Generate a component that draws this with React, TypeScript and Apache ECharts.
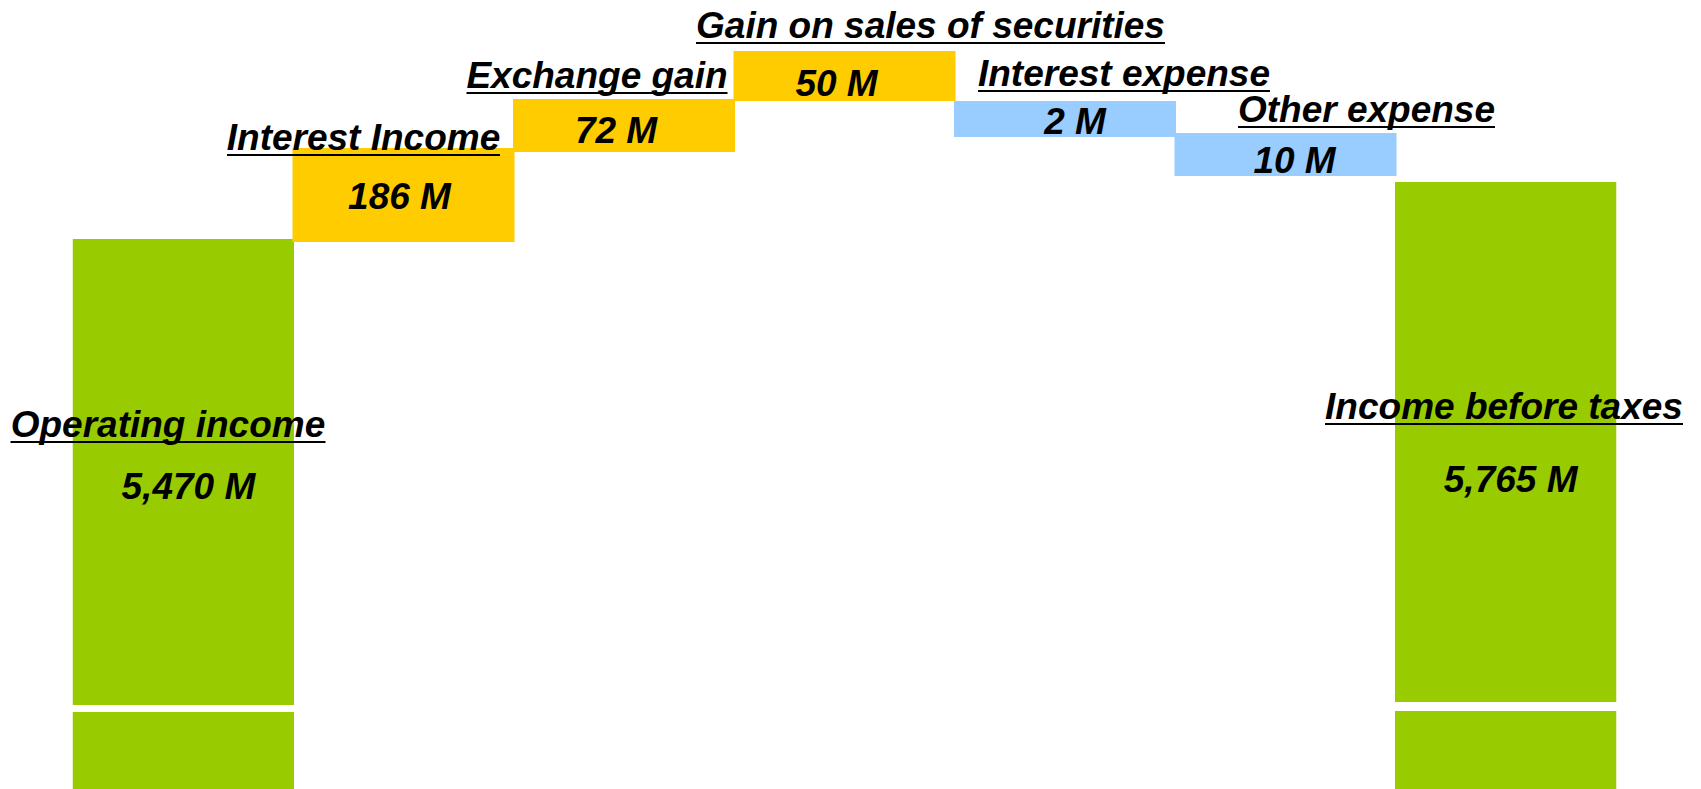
import React, { useEffect, useRef } from "react";
import * as echarts from "echarts";

// ---- data ----
const categories = [
  "Operating income",
  "Interest Income",
  "Exchange gain",
  "Gain on sales of securities",
  "Interest expense",
  "Other expense",
  "Income before taxes",
];
const amounts = [5470, 186, 72, 50, 2, 10, 5765];
const kinds = ["total", "increase", "increase", "increase", "decrease", "decrease", "total"];
// stylized (not to scale) bar extents, in display levels
const barLow = [0, 547, 637, 688, 652, 613, 0];
const barHigh = [550, 641, 690, 738, 688, 656, 607];
// axis-break band on the total bars
const breakFrom = [77, 0, 0, 0, 0, 0, 78];
const breakTo = [84, 0, 0, 0, 0, 0, 87];

// ---- styles / layout ----
const FONT = '"Liberation Sans", Arial, Helvetica, sans-serif';
const FONT_SIZE = 37;
const colors: Record<string, string> = {
  total: "#99CC00",
  increase: "#FFCC00",
  decrease: "#99CCFF",
};
const valueLabelOffsets = [
  [5, 14], [-4, 1], [-8, 5], [-8, 7], [10, 2], [9, 6], [5, 37],
];
const nameLabelOffsets = [
  [-15, 204], [-40, 8], [-27, -5], [86, -7], [59, -9], [81, -5], [-2, 243],
];

function measure(text: string): number {
  const ctx = document.createElement("canvas").getContext("2d");
  if (!ctx) return text.length * 20;
  ctx.font = `italic bold ${FONT_SIZE}px ${FONT}`;
  return ctx.measureText(text).width;
}

function fmt(v: number): string {
  return v.toLocaleString("en-US") + " M";
}

export default function App() {
  const ref = useRef<HTMLDivElement>(null);

  useEffect(() => {
    if (!ref.current) return;
    const chart = echarts.init(ref.current, null, { renderer: "svg" });

    const isTotal = (i: number) => kinds[i] === "total";

    const baseData = categories.map((_, i) => ({
      value: isTotal(i) ? breakFrom[i] : barLow[i],
      itemStyle: { color: isTotal(i) ? colors.total : "rgba(0,0,0,0)" },
    }));
    const gapData = categories.map((_, i) => ({
      value: isTotal(i) ? breakTo[i] - breakFrom[i] : 0,
      itemStyle: { color: "rgba(0,0,0,0)" },
    }));
    const segData = categories.map((_, i) => ({
      value: isTotal(i) ? barHigh[i] - breakTo[i] : barHigh[i] - barLow[i],
      itemStyle: { color: colors[kinds[i]] },
      label: { offset: valueLabelOffsets[i] },
    }));

    const rich: Record<string, any> = {
      t: {
        fontFamily: FONT,
        fontStyle: "italic",
        fontWeight: "bold",
        fontSize: FONT_SIZE,
        lineHeight: 34,
        color: "#000",
      },
    };
    categories.forEach((c, i) => {
      rich["u" + i] = {
        width: Math.round(measure(c)),
        height: 2,
        lineHeight: 2,
        fontSize: 1,
        backgroundColor: "#000",
      };
    });

    const nameData = categories.map((_, i) => ({
      value: [i, barHigh[i]],
      label: { offset: nameLabelOffsets[i] },
    }));

    chart.setOption({
      animation: false,
      grid: { left: 72.75, right: 84.75, top: 0, bottom: 0, containLabel: false },
      xAxis: { type: "category", data: categories, show: false },
      yAxis: { type: "value", min: 0, max: 789, show: false, splitLine: { show: false } },
      series: [
        {
          type: "bar",
          stack: "w",
          barWidth: 222,
          data: baseData,
          silent: true,
        },
        {
          type: "bar",
          stack: "w",
          barWidth: 222,
          data: gapData,
          silent: true,
        },
        {
          type: "bar",
          stack: "w",
          barWidth: 222,
          data: segData,
          silent: true,
          label: {
            show: true,
            position: "inside",
            formatter: (p: any) => fmt(amounts[p.dataIndex]),
            fontFamily: FONT,
            fontStyle: "italic",
            fontWeight: "bold",
            fontSize: FONT_SIZE,
            color: "#000",
          },
        },
        {
          type: "scatter",
          symbolSize: 0,
          data: nameData,
          silent: true,
          z: 10,
          itemStyle: { opacity: 1, color: "#000" },
          label: {
            show: true,
            position: "top",
            distance: 0,
            align: "center",
            color: "#000",
            opacity: 1,
            formatter: (p: any) => `{t|${categories[p.dataIndex]}}\n{u${p.dataIndex}| }`,
            rich,
          },
        },
      ],
    });

    return () => chart.dispose();
  }, []);

  return (
    <div
      ref={ref}
      style={{ position: "fixed", left: 0, top: 0, width: 1701, height: 789, background: "#fff" }}
    />
  );
}
